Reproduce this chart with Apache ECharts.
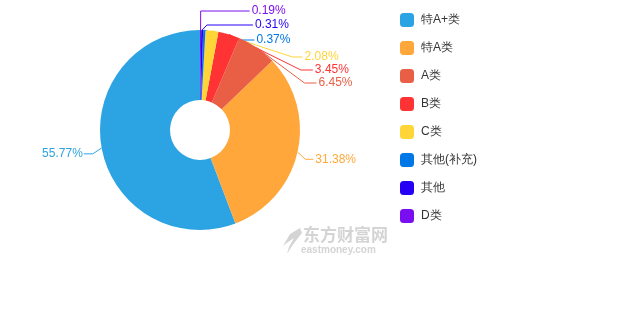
<!DOCTYPE html>
<html>
<head>
<meta charset="utf-8">
<script src="https://cdn.jsdelivr.net/npm/echarts@6/dist/echarts.min.js"></script>
<style>
  html, body { margin: 0; padding: 0; background: #fff; }
  #main { width: 630px; height: 330px; }
</style>
</head>
<body>
<div id="main"></div>
<script>
// 数据
var names = ['特A+类', '特A类', 'A类', 'B类', 'C类', '其他(补充)', '其他', 'D类'];
var values = [55.77, 31.38, 6.45, 3.45, 2.08, 0.37, 0.31, 0.19];
var colors = ['#2ca3e3', '#ffa73a', '#e85f45', '#ff3334', '#ffd538', '#0077e6', '#2400f7', '#7b0ef0'];

// 标签微调偏移
var labelDx = [6, -2, 6, 9, 8, -27, -9, 36];
var labelDy = [4, 5, -7, -6, -5, -8, -9, -9];
// 引导线水平段长度
var lineH = [9, 8, 12, 12, 10, 20, 46, 49];

var pieData = [];
for (var i = 0; i < names.length; i++) {
  pieData.push({
    name: names[i],
    value: values[i],
    itemStyle: { color: colors[i] },
    label: { color: colors[i] },
    labelLine: { lineStyle: { color: colors[i] } }
  });
}

var myChart = echarts.init(document.getElementById('main'));

var option = {
  animation: false,
  legend: {
    orient: 'vertical',
    left: 395,
    top: 8,
    itemWidth: 14,
    itemHeight: 14,
    itemGap: 14,
    icon: 'roundRect',
    textStyle: { color: '#333', fontSize: 12, padding: [0, 0, 0, 2] },
    data: names
  },
  graphic: [
    {
      type: 'text',
      left: 303,
      top: 226,
      style: { text: '东方财富网', fill: '#d4d4d4', font: 'bold 17px "Noto Sans CJK SC"' }
    },
    {
      type: 'text',
      left: 301,
      top: 245,
      style: { text: 'eastmoney.com', fill: '#d4d4d4', font: 'bold 10px Arial' }
    },
    {
      type: 'polygon',
      shape: { points: [[300, 228], [290, 234], [283, 246], [288, 242], [294, 238], [289, 247], [287, 254], [292, 246], [298, 238], [302, 233]] },
      style: { fill: '#d4d4d4' }
    }
  ],
  series: [{
    type: 'pie',
    center: [200, 130],
    radius: [30, 100],
    clockwise: false,
    startAngle: 90,
    avoidLabelOverlap: true,
    label: {
      formatter: '{d}%',
      fontSize: 12,
      fontFamily: 'Arial'
    },
    labelLine: {
      length: 10,
      length2: 10
    },
    labelLayout: function (params) {
      var i = params.dataIndex;
      var r = params.labelRect;
      var p0 = params.labelLinePoints ? params.labelLinePoints[0] : [200, 130];
      var y = r.y + r.height / 2 + labelDy[i];
      var pts;
      if (p0[0] < 200) {
        var xr = r.x + r.width + labelDx[i] + 1;
        pts = [p0, [Math.min(p0[0], xr + lineH[i]), y], [xr, y]];
      } else {
        var xl = r.x + labelDx[i] - 2;
        pts = [p0, [Math.max(p0[0], xl - lineH[i]), y], [xl, y]];
      }
      return { dx: labelDx[i], dy: labelDy[i], labelLinePoints: pts };
    },
    data: pieData
  }]
};

myChart.setOption(option);
</script>
</body>
</html>
